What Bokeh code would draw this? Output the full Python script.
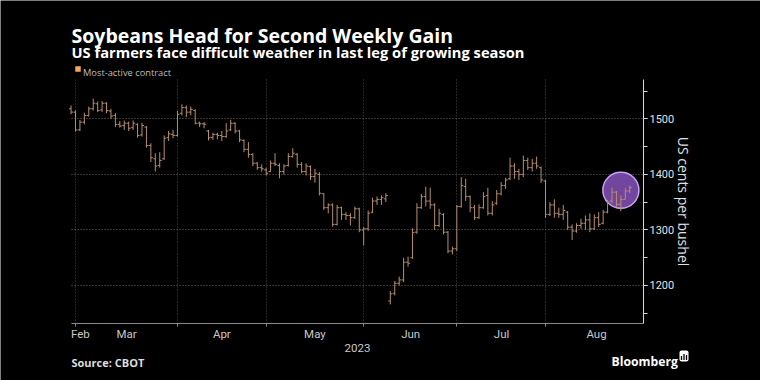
import numpy as np
from bokeh.plotting import figure
from bokeh.models import (Range1d, FixedTicker, SingleIntervalTicker, Label, LinearAxis, Grid,
                          ColumnDataSource, CustomJSTickFormatter)
from bokeh.embed import file_html
from bokeh.resources import INLINE

# ---- data: daily OHLC of the most-active soybean contract (US cents per bushel) ----
opens = [1518, 1512, 1480, 1494, 1506, 1518, 1527, 1516, 1528, 1514,
         1506, 1490, 1488, 1492, 1484, 1490, 1471, 1485, 1452, 1428,
         1416, 1428, 1466, 1472, 1470, 1510, 1520, 1512, 1515, 1492,
         1491, 1478, 1466, 1472, 1470, 1468, 1480, 1492, 1478, 1461,
         1445, 1436, 1420, 1412, 1408, 1405, 1420, 1416, 1405, 1416,
         1432, 1436, 1418, 1405, 1414, 1396, 1400, 1365, 1340, 1345,
         1310, 1340, 1328, 1326, 1322, 1338, 1300, 1302, 1332, 1352,
         1355, 1356, 1172, 1186, 1204, 1210, 1242, 1250, 1296, 1340,
         1360, 1352, 1345, 1308, 1328, 1296, 1262, 1266, 1342, 1378,
         1360, 1340, 1322, 1340, 1362, 1330, 1348, 1365, 1380, 1392,
         1415, 1405, 1400, 1425, 1412, 1420, 1412, 1388, 1328, 1345,
         1330, 1328, 1332, 1305, 1298, 1308, 1312, 1318, 1302, 1322,
         1312, 1332, 1352, 1368, 1346, 1355, 1370]
highs = [1524, 1515, 1498, 1511, 1522, 1536, 1531, 1532, 1530, 1518,
         1510, 1496, 1497, 1495, 1497, 1492, 1493, 1487, 1456, 1438,
         1440, 1470, 1478, 1480, 1514, 1526, 1524, 1522, 1517, 1495,
         1494, 1480, 1475, 1475, 1478, 1492, 1498, 1494, 1480, 1463,
         1458, 1438, 1422, 1418, 1412, 1425, 1438, 1420, 1418, 1438,
         1447, 1438, 1422, 1420, 1416, 1410, 1404, 1366, 1348, 1348,
         1345, 1342, 1332, 1330, 1342, 1340, 1305, 1335, 1358, 1360,
         1362, 1366, 1190, 1208, 1216, 1250, 1252, 1303, 1348, 1365,
         1378, 1376, 1348, 1338, 1330, 1298, 1270, 1345, 1395, 1392,
         1362, 1345, 1346, 1368, 1376, 1352, 1372, 1386, 1394, 1430,
         1420, 1410, 1434, 1430, 1428, 1432, 1414, 1390, 1350, 1355,
         1340, 1345, 1334, 1310, 1312, 1320, 1326, 1330, 1328, 1332,
         1336, 1354, 1376, 1370, 1362, 1375, 1380]
lows = [1508, 1477, 1478, 1490, 1504, 1515, 1512, 1512, 1510, 1500,
        1485, 1484, 1480, 1478, 1480, 1466, 1468, 1448, 1422, 1405,
        1412, 1426, 1460, 1465, 1468, 1506, 1503, 1506, 1490, 1485,
        1483, 1461, 1462, 1463, 1460, 1466, 1478, 1474, 1458, 1440,
        1430, 1415, 1408, 1405, 1398, 1404, 1415, 1393, 1400, 1414,
        1430, 1412, 1402, 1398, 1390, 1385, 1362, 1336, 1330, 1306,
        1308, 1318, 1318, 1308, 1320, 1296, 1272, 1298, 1330, 1345,
        1345, 1350, 1166, 1182, 1200, 1206, 1234, 1248, 1293, 1338,
        1342, 1338, 1300, 1305, 1292, 1258, 1256, 1262, 1340, 1352,
        1332, 1318, 1320, 1338, 1326, 1326, 1345, 1362, 1374, 1390,
        1392, 1390, 1395, 1408, 1405, 1410, 1385, 1322, 1325, 1322,
        1322, 1318, 1300, 1282, 1295, 1302, 1300, 1296, 1300, 1305,
        1310, 1330, 1348, 1342, 1334, 1355, 1366]
closes = [1512, 1480, 1494, 1506, 1518, 1528, 1515, 1528, 1515, 1505,
          1490, 1487, 1492, 1483, 1492, 1470, 1488, 1452, 1430, 1415,
          1425, 1465, 1473, 1470, 1508, 1520, 1512, 1517, 1492, 1491,
          1490, 1466, 1472, 1470, 1468, 1478, 1492, 1478, 1462, 1445,
          1436, 1420, 1412, 1410, 1402, 1420, 1418, 1405, 1415, 1432,
          1438, 1418, 1405, 1415, 1396, 1402, 1366, 1340, 1345, 1310,
          1340, 1328, 1326, 1322, 1338, 1300, 1302, 1330, 1352, 1355,
          1358, 1362, 1185, 1204, 1210, 1242, 1240, 1295, 1340, 1360,
          1352, 1345, 1308, 1330, 1296, 1262, 1266, 1342, 1380, 1360,
          1340, 1322, 1340, 1360, 1330, 1345, 1365, 1380, 1390, 1415,
          1405, 1400, 1425, 1412, 1420, 1415, 1390, 1328, 1345, 1330,
          1328, 1335, 1305, 1298, 1308, 1312, 1318, 1302, 1322, 1310,
          1332, 1350, 1368, 1346, 1355, 1370, 1376]

month_labels = ["Feb", "Mar", "Apr", "May", "Jun", "Jul", "Aug"]
month_label_pos = [2.1, 12.5, 34.0, 55.0, 76.6, 97.1, 118.5]
month_start_idx = [1, 24, 44, 66, 87, 107]
year_label = "2023"
y_tick_step = 100

title_text = "Soybeans Head for Second Weekly Gain"
subtitle_text = "US farmers face difficult weather in last leg of growing season"
legend_text = "Most-active contract"
source_text = "Source: CBOT"
brand_text = "Bloomberg"
y_axis_title = "US cents per bushel"

# ---- styling / layout ----
BAR = "#b88e6b"
FONT = "Open Sans"
TICKFONT = "Roboto"
W, H = 760, 380
FRAME_L, FRAME_R, FRAME_T, FRAME_B = 71, 643, 79, 323   # plot-area edges (px)
X_LO, X_HI = 0.1, 129.1          # visible trading-day index range
Y_LO, Y_HI = 1131.6, 1570.7      # visible price range

# extra ranges so that the visible data window maps onto the plot area
pxx = (FRAME_R - FRAME_L) / (X_HI - X_LO)
pxy = (FRAME_B - FRAME_T) / (Y_HI - Y_LO)
idx_range = Range1d(X_LO - FRAME_L / pxx, X_HI + (W - FRAME_R) / pxx)
price_range = Range1d(Y_LO - (H - FRAME_B) / pxy, Y_HI + FRAME_T / pxy)

p = figure(width=W, height=H, output_backend="svg", toolbar_location=None,
           x_range=Range1d(0, W), y_range=Range1d(H, 0),
           x_axis_type=None, y_axis_type=None,
           background_fill_color="#000000", border_fill_color="#000000",
           min_border_left=0, min_border_right=0, min_border_top=0, min_border_bottom=0)
p.outline_line_color = None
p.extra_x_ranges = {"idx": idx_range}
p.extra_y_ranges = {"price": price_range}

# ---- grids (limited to the plot area) ----
has_cross = "cross_bounds" in Grid.properties()
gkw_v = dict(cross_bounds=(Y_LO, Y_HI)) if has_cross else {}
gkw_h = dict(cross_bounds=(X_LO, X_HI)) if has_cross else {}
vgrid = Grid(dimension=0, ticker=FixedTicker(ticks=month_start_idx), bounds=(X_LO, X_HI),
             x_range_name="idx", y_range_name="price",
             grid_line_color="#4d4d4d", grid_line_dash="1 2", **gkw_v)
hgrid = Grid(dimension=1, ticker=SingleIntervalTicker(interval=y_tick_step), bounds=(Y_LO, Y_HI),
             x_range_name="idx", y_range_name="price",
             grid_line_color="#6a6a6a", grid_line_dash="1 2", **gkw_h)
p.add_layout(vgrid)
p.add_layout(hgrid)

# ---- highlight of the latest week ----
idx = np.arange(len(opens), dtype=float)
n_hl = 5
cx = float(np.mean(idx[-n_hl:]))
cy = (max(highs[-n_hl:]) + float(np.mean(closes[-n_hl:]))) / 2
p.circle(x=[cx], y=[cy], radius=4.06, fill_color="#7e4cb0", fill_alpha=0.9,
         line_color="#c9a2f2", line_width=1.5, x_range_name="idx", y_range_name="price")

# ---- OHLC bars ----
src = ColumnDataSource(dict(x=idx, xl=idx - 0.45, xr=idx + 0.45,
                            o=opens, h=highs, l=lows, c=closes))
for x0, y0, x1, y1 in (("x", "l", "x", "h"), ("xl", "o", "x", "o"), ("x", "c", "xr", "c")):
    p.segment(x0=x0, y0=y0, x1=x1, y1=y1, source=src, line_color=BAR, line_width=1,
              x_range_name="idx", y_range_name="price")

# ---- x axis ----
xa = LinearAxis(x_range_name="idx", fixed_location=FRAME_B, bounds=(X_LO, X_HI))
xa.ticker = FixedTicker(ticks=month_label_pos, minor_ticks=month_start_idx)
xa.formatter = CustomJSTickFormatter(args=dict(pos=month_label_pos, labs=month_labels), code="""
let best = 0, d = 1e9;
for (let k = 0; k < pos.length; k++) { const dd = Math.abs(pos[k] - tick); if (dd < d) { d = dd; best = k; } }
return labs[best];
""")
xa.axis_line_color = "#8a8a8a"
xa.major_tick_line_color = None
xa.major_tick_out = 0
xa.major_tick_in = 0
xa.minor_tick_line_color = "#8a8a8a"
xa.minor_tick_out = 3
xa.minor_tick_in = 0
xa.major_label_text_color = "#c8c8c8"
xa.major_label_text_font = TICKFONT
xa.major_label_text_font_size = "11.5px"
xa.major_label_standoff = 0
p.add_layout(xa, "below")

# ---- y axis (right) ----
ya = LinearAxis(y_range_name="price", fixed_location=FRAME_R, bounds=(Y_LO, Y_HI))
ya.ticker = SingleIntervalTicker(interval=y_tick_step, num_minor_ticks=2)
ya.axis_line_color = "#d8d8d8"
ya.major_tick_line_color = "#d8d8d8"
ya.minor_tick_line_color = "#d8d8d8"
ya.major_tick_out = 4
ya.major_tick_in = 0
ya.minor_tick_out = 4
ya.minor_tick_in = 0
ya.major_label_text_color = "#e0e0e0"
ya.major_label_text_font = TICKFONT
ya.major_label_text_font_size = "11px"
ya.major_label_standoff = 2
ya.axis_label = y_axis_title
ya.axis_label_text_color = "#e0e0e0"
ya.axis_label_text_font = FONT
ya.axis_label_text_font_size = "14px"
ya.axis_label_text_font_style = "normal"
ya.axis_label_standoff = -3
p.add_layout(ya, "right")

# ---- texts ----
def add_text(x, y, text, size, color, style="normal", align="left", font=FONT):
    p.add_layout(Label(x=x, y=y, text=text, text_font=font, text_font_size=size,
                       text_color=color, text_font_style=style, text_align=align,
                       text_baseline="alphabetic"))

add_text(71, 35, title_text, "19.5px", "#ffffff", "bold")
add_text(71, 51.7, subtitle_text, "14.7px", "#ffffff", "bold")
p.scatter(x=[77.5], y=[68.5], marker="square", size=5.5, fill_color="#f5a657", line_color=None)
add_text(82.5, 71.7, legend_text, "9.3px", "#bdbdbd")
add_text((FRAME_L + FRAME_R) / 2, 347, year_label, "11.5px", "#c8c8c8", align="center", font=TICKFONT)
add_text(71, 361.7, source_text, "11px", "#dddddd", "bold")
add_text(611, 360.5, brand_text, "12.2px", "#ffffff", "bold")
p.rect(x=[683.5], y=[355.5], width=9, height=11, fill_color="#ffffff", line_color=None, border_radius=2)
p.rect(x=[681, 683.5, 686], y=[357.5, 356.5, 357.0], width=1.3, height=[4, 6, 5],
       fill_color="#000000", line_color=None)

html = file_html(p, INLINE)
open("out.html", "w").write(html)
